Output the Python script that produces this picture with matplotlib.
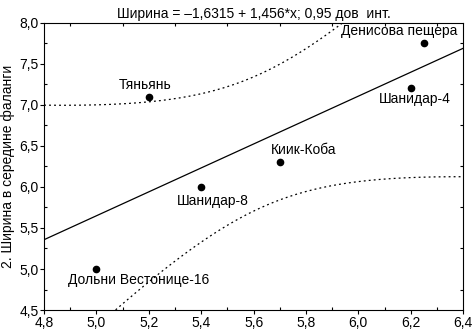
import numpy as np
import matplotlib; matplotlib.use("Agg")
import matplotlib.pyplot as plt
from matplotlib.ticker import FuncFormatter, MultipleLocator

plt.rcParams['font.family'] = ['Liberation Sans', 'DejaVu Sans']

# data
names = ["Дольни Вестонице-16", "Тяньянь", "Шанидар-8", "Киик-Коба", "Шанидар-4", "Денисова пещера"]
xs = np.array([5.0, 5.2, 5.4, 5.7, 6.2, 6.25])
ys = np.array([5.0, 7.1, 6.0, 6.3, 7.2, 7.75])
# label offsets in points (dx, dy)
offs = [(30, -8), (-3, 8), (8, -10), (17, 9), (3, -8), (-18, 9)]
T975 = 2.776  # t(0.975, df=4)

b, a = np.polyfit(xs, ys, 1)
n = len(xs); xm = xs.mean(); sxx = ((xs - xm)**2).sum()
s = np.sqrt(((ys - (a + b*xs))**2).sum() / (n - 2))

fig = plt.figure(figsize=(4.74, 3.32), dpi=100)
ax = fig.add_axes([0.093, 0.066, 0.884, 0.866])

xx = np.linspace(4.8, 6.4, 300)
yy = a + b*xx
hw = T975*s*np.sqrt(1/n + (xx - xm)**2/sxx)
ax.plot(xx, yy, color="k", lw=0.9)
ax.plot(xx, yy + hw, color="k", lw=0.9, ls=(0, (1.5, 2.5)))
ax.plot(xx, yy - hw, color="k", lw=0.9, ls=(0, (1.5, 2.5)))
ax.plot(xs, ys, "o", color="k", ms=4.5)

for nm, x, y, (dx, dy) in zip(names, xs, ys, offs):
    ax.annotate(nm, (x, y), textcoords="offset points", xytext=(dx, dy),
                ha="center", va="center", fontsize=10)

ax.set_xlim(4.8, 6.4); ax.set_ylim(4.5, 8.0)
ax.xaxis.set_major_locator(MultipleLocator(0.2))
ax.yaxis.set_major_locator(MultipleLocator(0.5))
ax.xaxis.set_minor_locator(MultipleLocator(0.1))
ax.yaxis.set_minor_locator(MultipleLocator(0.25))
fmt = FuncFormatter(lambda v, p: f"{v:.1f}".replace(".", ","))
ax.xaxis.set_major_formatter(fmt); ax.yaxis.set_major_formatter(fmt)
ax.tick_params(which="major", direction="out", length=3, width=0.8, labelsize=10, pad=1)
ax.tick_params(which="minor", direction="in", length=2, width=0.8, top=True, right=True)
ax.tick_params(which="major", top=False, right=False)
for sp in ax.spines.values(): sp.set_linewidth(0.8)

ax.set_ylabel("2. Ширина в середине фаланги", fontsize=10, labelpad=3)
ax.set_title("Ширина = –1,6315 + 1,456*x; 0,95 дов  инт.", fontsize=10, pad=3)

fig.savefig("out.png", dpi=100)
